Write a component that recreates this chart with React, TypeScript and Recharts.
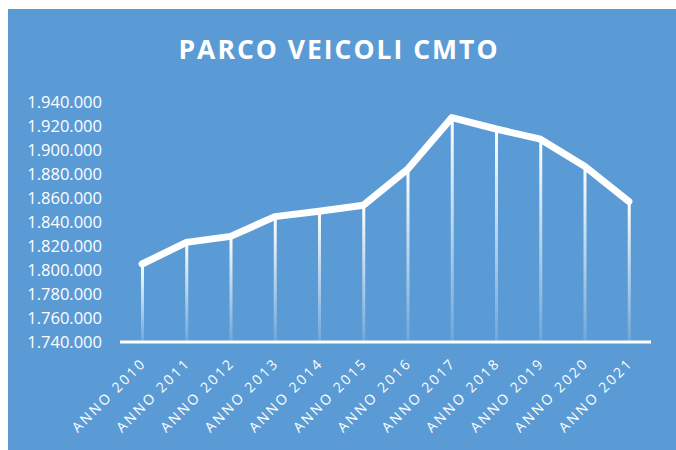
import React from "react";
import {
  ComposedChart, Bar, Line, XAxis, YAxis,
} from "recharts";

// ─── Data ────────────────────────────────────────────────────────────────────
const YEARS = [
  "ANNO 2010", "ANNO 2011", "ANNO 2012", "ANNO 2013", "ANNO 2014", "ANNO 2015",
  "ANNO 2016", "ANNO 2017", "ANNO 2018", "ANNO 2019", "ANNO 2020", "ANNO 2021",
];
const VEHICLES = [
  1805000, 1823000, 1828000, 1844500, 1849000, 1854000,
  1884000, 1927000, 1917500, 1909000, 1886500, 1857000,
];
const Y_TICKS = [
  1740000, 1760000, 1780000, 1800000, 1820000, 1840000,
  1860000, 1880000, 1900000, 1920000, 1940000,
];

const BG = "#5B9BD5";
const FONT = "'Open Sans', sans-serif";

const data = YEARS.map((year, i) => ({ year, value: VEHICLES[i] }));

// 1740000 -> "1.740.000"
const fmt = (v: number) => String(v).replace(/\B(?=(\d{3})+(?!\d))/g, ".");

const XTick = ({ x, y, payload }: any) => (
  <text
    x={x + 5}
    y={y + 22}
    transform={`rotate(-45, ${x + 5}, ${y + 22})`}
    textAnchor="end"
    fill="#ffffff"
    fontSize={14}
    letterSpacing={2.4}
    fontFamily={FONT}
  >
    {payload.value}
  </text>
);

export default function App() {
  return (
    <div>
      <style>{`body{margin:0;overflow:hidden}`}</style>
      <div
        style={{
          position: "relative",
          margin: "9px 0 0 8px",
          width: 668,
          height: 441,
          background: BG,
        }}
      >
        <svg
          width={668}
          height={70}
          style={{ position: "absolute", left: 0, top: 0 }}
        >
          <text
            x={331}
            y={50}
            textAnchor="middle"
            fill="#ffffff"
            fontSize={26.5}
            fontWeight={700}
            letterSpacing={2}
            fontFamily={FONT}
          >
            PARCO VEICOLI CMTO
          </text>
        </svg>
        <ComposedChart
          width={668}
          height={441}
          data={data}
          margin={{ top: 93, right: 25, left: 0, bottom: 0 }}
          style={{ position: "absolute", left: 0, top: 0 }}
        >
          <defs>
            <linearGradient id="dropFade" x1="0" y1="0" x2="0" y2="1">
              <stop offset="0%" stopColor="#ffffff" stopOpacity={1} />
              <stop offset="100%" stopColor="#ffffff" stopOpacity={0.12} />
            </linearGradient>
          </defs>
          <XAxis
            dataKey="year"
            height={108}
            interval={0}
            tickLine={false}
            tickSize={0}
            tickMargin={0}
            axisLine={{ stroke: "#ffffff", strokeWidth: 3 }}
            tick={<XTick />}
          />
          <YAxis
            width={112}
            domain={[1740000, 1940000]}
            ticks={Y_TICKS}
            interval={0}
            allowDataOverflow
            axisLine={false}
            tickLine={false}
            tickSize={0}
            tickMargin={18}
            tickFormatter={fmt}
            tick={{ fill: "#ffffff", fontSize: 16.5, fontFamily: FONT }}
          />
          <Bar
            dataKey="value"
            barSize={3}
            fill="url(#dropFade)"
            isAnimationActive={false}
          />
          <Line
            dataKey="value"
            type="linear"
            stroke="#ffffff"
            strokeWidth={7}
            strokeLinecap="round"
            strokeLinejoin="round"
            dot={false}
            activeDot={false}
            isAnimationActive={false}
          />
        </ComposedChart>
      </div>
    </div>
  );
}
